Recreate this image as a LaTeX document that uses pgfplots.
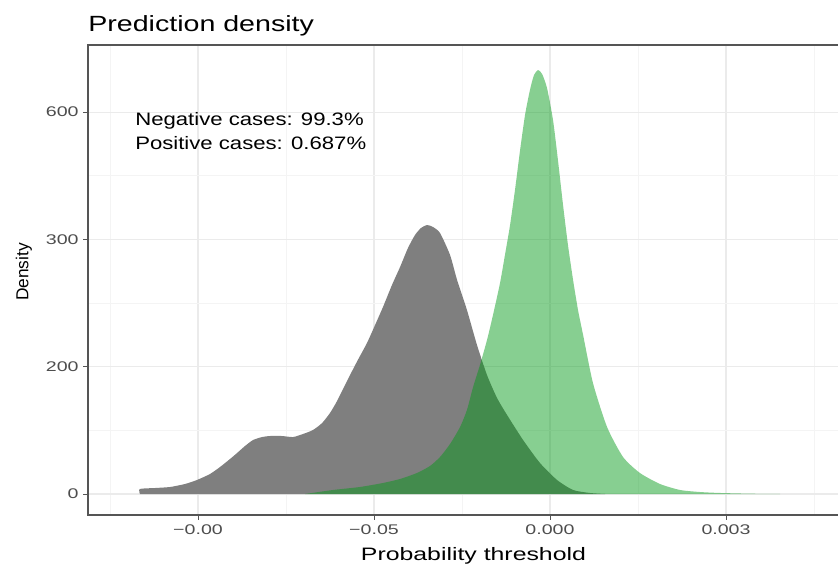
\documentclass[border=0pt]{standalone}
\usepackage{fontspec}
\setmainfont{Liberation Sans}
\newfontfamily\titlefont[FakeStretch=1.3]{Liberation Sans}
\newfontfamily\annfont[FakeStretch=1.23]{Liberation Sans}
\newfontfamily\tickfont[FakeStretch=1.4]{Liberation Sans}
\newfontfamily\labfont[FakeStretch=1.38]{Liberation Sans}
\usepackage{pgfplots}
\pgfplotsset{compat=1.18}
\definecolor{posgreen}{RGB}{0,153,21}
\definecolor{negc}{RGB}{127,127,127}
\definecolor{gridc}{RGB}{235,235,235}
\definecolor{minorc}{RGB}{244,244,244}
\definecolor{tickc}{RGB}{77,77,77}
\definecolor{framec}{RGB}{85,85,85}
\begin{document}
\begin{tikzpicture}
\useasboundingbox (-66pt,-39.75pt) rectangle (562.5pt,386.25pt);
\begin{axis}[at={(0pt,0pt)}, anchor=south west, scale only axis,
  width=567.75pt, height=352.5pt,
  xmin=-0.625, xmax=3.676, ymin=-33, ymax=705.4,
  xtick={0,1,2,3}, xticklabels={−0.00,−0.05,0.000,0.003},
  minor xtick={-0.5,0.5,1.5,2.5,3.5},
  ytick={0,200,400,600}, yticklabels={0,200,300,600},
  minor ytick={100,300,500},
  grid=both,
  major grid style={gridc, line width=0.8pt},
  minor grid style={minorc, line width=0.5pt},
  axis line style={framec, line width=0.8pt},
  tick align=outside, major tick length=3.5pt, minor tick length=0pt,
  tick style={framec, line width=0.6pt},
  xtick pos=bottom, ytick pos=left,
  ticklabel style={font=\tickfont\fontsize{10.5}{12}\selectfont, text=tickc},
]
\addplot[draw=none, fill=negc, smooth, tension=0.4] coordinates {
(-0.330,0) (-0.330,7.9) (-0.244,9.4) (-0.159,11.0) (-0.074,15.7) (-0.006,22.0)
(0.068,31.4) (0.125,42.4) (0.182,55.0) (0.222,64.4) (0.267,75.4) (0.313,84.8)
(0.364,89.5) (0.409,91.1) (0.477,91.1) (0.540,89.5) (0.597,94.3) (0.653,100.5)
(0.705,111.5) (0.750,127.3) (0.790,146.0) (0.824,165.0) (0.864,187.0) (0.909,211.0)
(0.960,237.2) (1.006,265.5) (1.051,293.8) (1.102,328.3) (1.148,356.6) (1.193,386.5)
(1.233,406.9) (1.267,417.9) (1.301,422.6) (1.335,419.5) (1.375,410.0) (1.432,375.5)
(1.472,336.2) (1.528,289.1) (1.585,234.1) (1.642,186.9) (1.699,150.8) (1.756,124.1)
(1.847,84.8) (1.943,48.7) (2.040,22.0) (2.131,6.3) (2.227,1.6) (2.313,0)
} -- cycle;
\addplot[draw=none, fill=posgreen, fill opacity=0.47, smooth, tension=0.4] coordinates {
(0.608,0) (0.767,6.3) (0.920,11.0) (1.051,17.3) (1.148,23.6) (1.244,33.0)
(1.318,44.0) (1.375,58.1) (1.432,78.6) (1.489,105.3) (1.528,132.0) (1.563,168.1)
(1.602,202.7) (1.642,241.9) (1.676,281.2) (1.716,331.5) (1.744,375.5) (1.773,422.6)
(1.801,477.6) (1.830,540.4) (1.858,595.4) (1.886,634.7) (1.909,658.2) (1.932,666.1)
(1.955,659.8) (1.983,637.8) (2.017,587.6) (2.045,524.7) (2.074,454.0) (2.102,391.2)
(2.131,336.2) (2.159,289.1) (2.188,249.8) (2.244,174.4) (2.324,105.3) (2.415,58.1)
(2.511,33.0) (2.625,15.7) (2.739,6.3) (2.852,3.1) (2.966,1.6) (3.136,0.5) (3.307,0)
} -- cycle;
\end{axis}
\node[anchor=base west, inner sep=0pt, font=\titlefont\fontsize{16.5}{18}\selectfont] at (0pt,362.25pt) {Prediction density};
\node[anchor=base west, inner sep=0pt, font=\annfont\fontsize{13.5}{15}\selectfont] at (35.25pt,291.75pt) {Negative cases: 99.3\%};
\node[anchor=base west, inner sep=0pt, font=\annfont\fontsize{13.5}{15}\selectfont] at (35.25pt,273.75pt) {Positive cases: 0.687\%};
\node[anchor=base, inner sep=0pt, font=\labfont\fontsize{13.5}{15}\selectfont] at (289.1pt,-33.75pt) {Probability threshold};
\node[rotate=90, inner sep=0pt, font=\fontsize{13}{15}\selectfont] at (-48pt,182.25pt) {Density};
\end{tikzpicture}
\end{document}
